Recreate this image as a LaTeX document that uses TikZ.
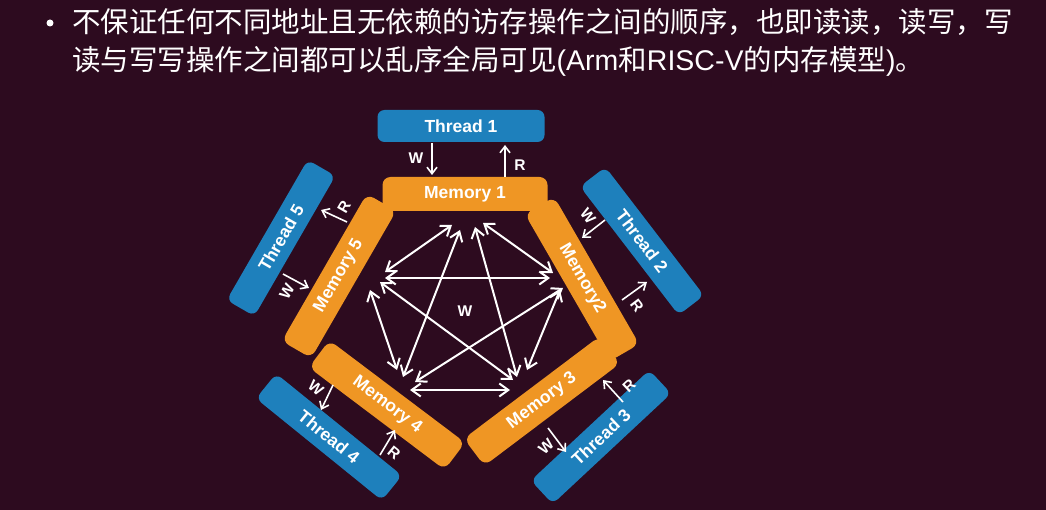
\documentclass[tikz,border=0pt]{standalone}
\usepackage{fontspec}
\setmainfont{Liberation Sans}
\newfontfamily\cjk{Noto Sans CJK SC}
\usetikzlibrary{arrows.meta}
\definecolor{slidebg}{RGB}{45,11,31}
\definecolor{memorange}{RGB}{239,150,36}
\definecolor{threadblue}{RGB}{30,128,188}

\begin{document}
\begin{tikzpicture}[x=1pt,y=-1pt,
    memory/.style={fill=memorange,rounded corners=8pt,minimum width=170pt,
        minimum height=34pt,inner sep=0pt,text=white,
        font={\bfseries\fontsize{17.5}{20}\selectfont}},
    thread/.style={fill=threadblue,rounded corners=7pt,minimum width=162pt,
        minimum height=32pt,inner sep=0pt,text=white,
        font={\bfseries\fontsize{17.5}{20}\selectfont}},
    op/.style={text=white,inner sep=0pt,font={\bfseries\fontsize{15.5}{18}\selectfont}},
    access/.style={white,line width=1.6pt,-{Straight Barb[length=6.5pt,width=10pt]}},
    order/.style={white,line width=2pt,
        {Straight Barb[length=9pt,width=13pt]}-{Straight Barb[length=9pt,width=13pt]}}]

\fill[slidebg] (0,0) rectangle (1046,510);

% slide text
\fill[white] (50,23) circle (3.5pt);
\node[anchor=west,inner sep=0pt,text=white,font={\cjk\fontsize{28.5}{34}\selectfont}] (line1) at (72,22)
    {不保证任何不同地址且无依赖的访存操作之间的顺序，也即读读，读写，写};
\node[anchor=west,inner sep=0pt,text=white,font={\cjk\fontsize{28.5}{34}\selectfont}] (line2) at (72,61)
    {读与写写操作之间都可以乱序全局可见{\rmfamily(Arm}和{\rmfamily RISC-V}的内存模型{\rmfamily)}。};

% memories
\node[memory,minimum width=165pt] (m1) at (465,194) {Memory 1};
\node[memory,rotate=-60] (m2) at (582,279) {Memory2};
\node[memory,rotate=37] (m3) at (542,401) {Memory 3};
\node[memory,rotate=-37] (m4) at (387,405) {Memory 4};
\node[memory,rotate=60] (m5) at (339,276) {Memory 5};

% threads
\node[thread,minimum width=167pt] (t1) at (461,126) {Thread 1};
\node[thread,rotate=-52.5] (t2) at (642,241) {Thread 2};
\node[thread,rotate=43] (t3) at (601,437) {Thread 3};
\node[thread,rotate=-39] (t4) at (329,437) {Thread 4};
\node[thread,rotate=60] (t5) at (281,238) {Thread 5};

% W/R between thread and memory
\coordinate (w1a) at (432,143); \coordinate (w1b) at (432,175);
\coordinate (r1a) at (505,177); \coordinate (r1b) at (505,145);
\coordinate (w2a) at (605,220); \coordinate (w2b) at (582,238);
\coordinate (r2a) at (622,300); \coordinate (r2b) at (647,282);
\coordinate (w3a) at (548,428); \coordinate (w3b) at (566,452);
\coordinate (r3a) at (623,402); \coordinate (r3b) at (603,380);
\coordinate (w4a) at (333,385); \coordinate (w4b) at (321,410);
\coordinate (r4a) at (380,455); \coordinate (r4b) at (395,430);
\coordinate (w5a) at (283,274); \coordinate (w5b) at (309,288);
\coordinate (r5a) at (347,222); \coordinate (r5b) at (321,210);

\draw[access] (w1a) -- (w1b);
\draw[access] (r1a) -- (r1b);
\draw[access] (w2a) -- (w2b);
\draw[access] (r2a) -- (r2b);
\draw[access] (w3a) -- (w3b);
\draw[access] (r3a) -- (r3b);
\draw[access] (w4a) -- (w4b);
\draw[access] (r4a) -- (r4b);
\draw[access] (w5a) -- (w5b);
\draw[access] (r5a) -- (r5b);

\node[op] (w1) at (416,158) {W};
\node[op] (r1) at (520,165) {R};
\node[op,rotate=-52.5] (w2) at (588,216) {W};
\node[op,rotate=-52.5] (r2) at (637,306) {R};
\node[op,rotate=43] (w3) at (546,447) {W};
\node[op,rotate=43] (r3) at (629,386) {R};
\node[op,rotate=-39] (w4) at (316,388) {W};
\node[op,rotate=-39] (r4) at (394,453) {R};
\node[op,rotate=60] (w5) at (287,291) {W};
\node[op,rotate=60] (r5) at (344,207) {R};

% global order among memories
\coordinate (p15) at (452,225); \coordinate (p51) at (385,272);
\coordinate (p14) at (460,230); \coordinate (p41) at (403,377);
\coordinate (p13) at (475,227); \coordinate (p31) at (517,377);
\coordinate (p12) at (483,223); \coordinate (p21) at (553,273);
\coordinate (p52) at (385,278); \coordinate (p25) at (550,278);
\coordinate (p53) at (380,282); \coordinate (p35) at (513,380);
\coordinate (p54) at (370,290); \coordinate (p45) at (397,370);
\coordinate (p24) at (563,288); \coordinate (p42) at (415,382);
\coordinate (p23) at (560,290); \coordinate (p32) at (527,370);
\coordinate (p43) at (410,390); \coordinate (p34) at (510,390);

\draw[order] (p15) -- (p51);
\draw[order] (p14) -- (p41);
\draw[order] (p13) -- (p31);
\draw[order] (p12) -- (p21);
\draw[order] (p52) -- (p25);
\draw[order] (p53) -- (p35);
\draw[order] (p54) -- (p45);
\draw[order] (p24) -- (p42);
\draw[order] (p23) -- (p32);
\draw[order] (p43) -- (p34);

\node[op] (wall) at (465,311) {W};

\end{tikzpicture}
\end{document}
